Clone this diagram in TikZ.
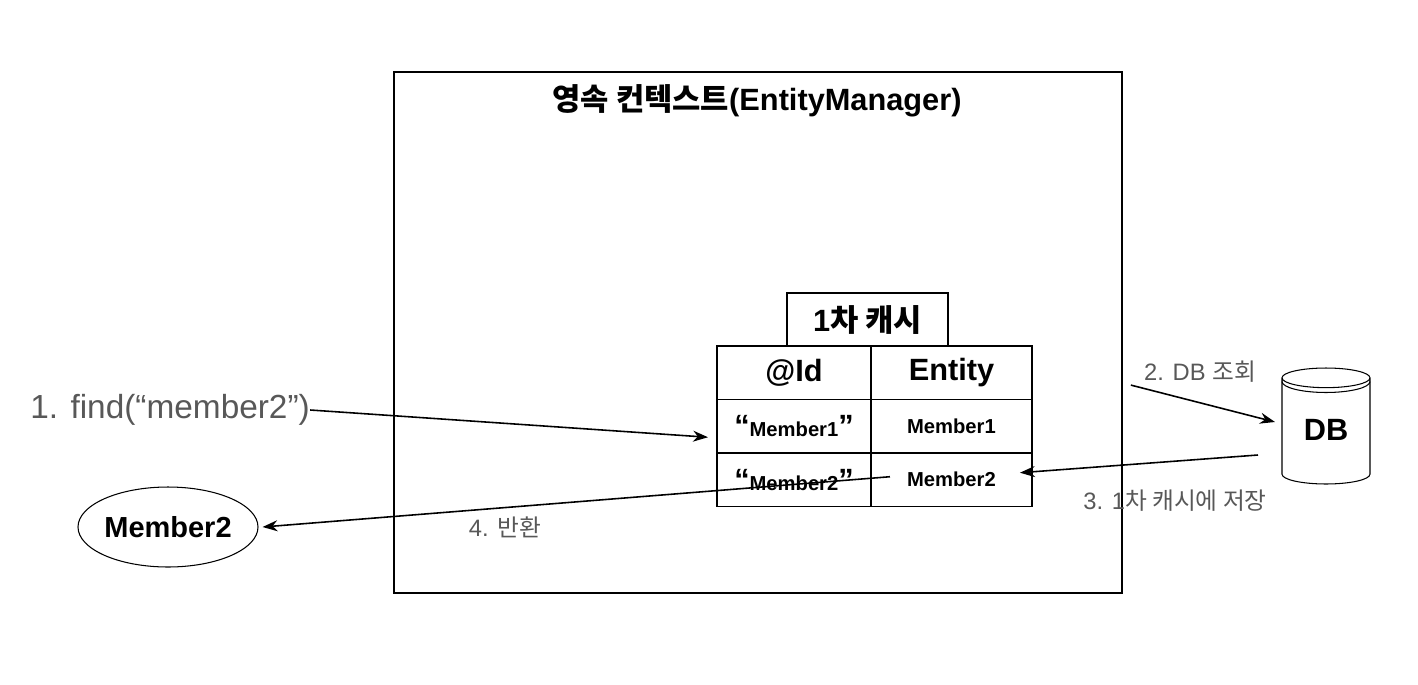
\documentclass[tikz,border=0pt]{standalone}
\usepackage{fontspec}
\setmainfont{Liberation Sans}
\newfontfamily\kr{Noto Sans CJK KR}
\usetikzlibrary{arrows.meta,positioning,shapes.geometric,calc}
\definecolor{lblgray}{RGB}{88,88,88}

\begin{document}
\begin{tikzpicture}[
  x=0.02cm, y=-0.02cm,
  frame/.style={draw, line width=1.1pt, minimum width=14.56cm, minimum height=10.42cm, inner sep=0},
  cell/.style={draw, line width=1.1pt, outer sep=0, inner sep=0, minimum height=1.07cm},
  idcol/.style={cell, minimum width=3.08cm},
  entcol/.style={cell, minimum width=3.22cm},
  head/.style={font=\fontsize{17.5}{20}\selectfont\bfseries},
  entry/.style={font=\fontsize{11.5}{14}\selectfont\bfseries},
  steplbl/.style={text=lblgray, font=\fontsize{13.5}{16}\selectfont},
  arrow/.style={-{Stealth[length=3mm, width=2.2mm]}, line width=0.9pt},
]
  \useasboundingbox (0,0) rectangle (1418,684);

  % Persistence context
  \node[frame] (ctx) at (758,332.5) {};
  \node[head] (title) at (757,101) {{\kr 영속 컨텍스트}(EntityManager)};

  % First-level cache table
  \node[cell, minimum width=3.22cm, head] (cache) at (867.5,319.5) {1{\kr 차 캐시}};
  \node[idcol, head, anchor=north west] (idh) at (717,346) {@Id};
  \node[entcol, head, right=0 of idh] (enth) {Entity};
  \node[idcol, entry, below=0 of idh] (id1)
    {{\fontsize{17.5}{20}\selectfont “}Member1{\fontsize{17.5}{20}\selectfont ”}};
  \node[entcol, entry, right=0 of id1] (ent1) {Member1};
  \node[idcol, entry, below=0 of id1] (id2)
    {{\fontsize{17.5}{20}\selectfont “}Member2{\fontsize{17.5}{20}\selectfont ”}};
  \node[entcol, entry, right=0 of id2] (ent2) {Member2};

  % Outside
  \node[text=lblgray, font=\fontsize{19}{22}\selectfont, inner sep=0, anchor=west]
    (find) at (30,410) {1. find(“member2”)};
  \node[ellipse, draw, line width=0.6pt, inner sep=0, minimum width=3.6cm, minimum height=1.6cm,
        font=\fontsize{16.5}{20}\selectfont\bfseries] (mem) at (168,527) {Member2};
  \node[cylinder, shape border rotate=90, draw, line width=0.6pt, aspect=0.35,
        minimum width=1.76cm, minimum height=2.32cm, head, anchor=shape center]
    (db) at (1326,426) {\raisebox{4.5pt}{DB}};
  \draw[line width=0.6pt] ($(db.north)+(-44,14)$) arc[start angle=180, end angle=0, x radius=44, y radius=11];

  % Steps
  \draw[arrow] (find.east) -- ($(id1.west)+(-9,11)$);
  \draw[arrow] ($(ctx.north east)+(8,314)$) -- ($(db.shape center)+(-51,-4)$);
  \draw[arrow] ($(db.shape center)+(-68,29)$) -- ($(ent2.east)+(-12,-7)$);
  \draw[arrow] ($(ent2.west)+(19,-3)$) -- ($(mem.east)+(4,0)$);

  \node[steplbl] (lbl2) at (1200,372) {2. DB {\kr 조회}};
  \node[steplbl] (lbl3) at (1175,501) {3. 1{\kr 차 캐시에 저장}};
  \node[steplbl] (lbl4) at (505,527) {4. {\kr 반환}};
\end{tikzpicture}
\end{document}
